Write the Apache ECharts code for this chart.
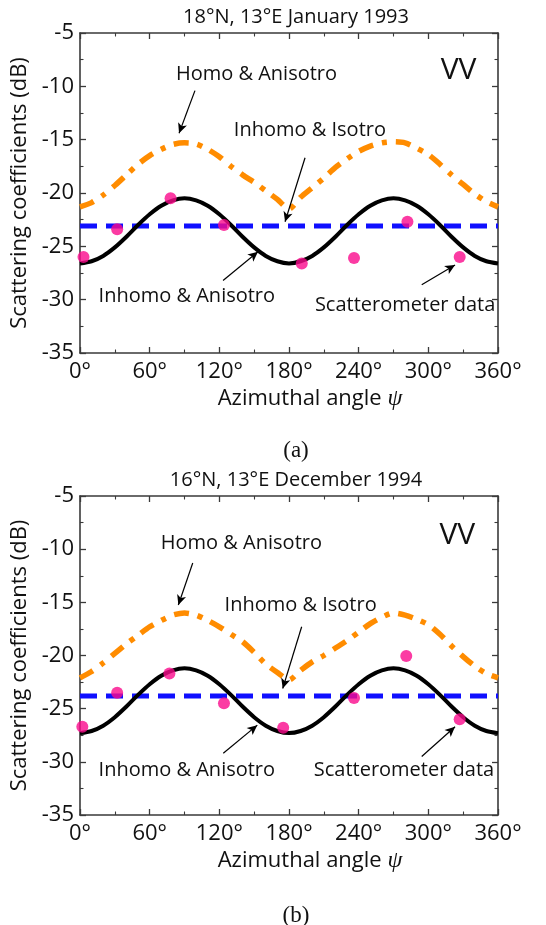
<!DOCTYPE html>
<html><head><meta charset="utf-8">
<script src="https://cdn.jsdelivr.net/npm/echarts@6/dist/echarts.min.js"></script>
<style>html,body{margin:0;padding:0;background:#fff}#c{width:546px;height:925px}</style>
</head><body><div id="c"></div>
<script>
// ---- data ----
const angles = [0,10,20,30,40,50,60,70,80,90,100,110,120,130,140,150,160,170,180,190,200,210,220,230,240,250,260,270,280,290,300,310,320,330,340,350,360];
const xTicks = [0,60,120,180,240,300,360];
const yTicks = [-35,-30,-25,-20,-15,-10,-5];

const titleA = '18°N, 13°E January 1993';
const titleB = '16°N, 13°E December 1994';

const blackA = [-26.6,-26.4,-25.9,-25.1,-24.1,-23.0,-22.0,-21.2,-20.7,-20.5,-20.7,-21.2,-22.0,-23.0,-24.1,-25.1,-25.9,-26.4,-26.6,-26.4,-25.9,-25.1,-24.1,-23.0,-22.0,-21.2,-20.7,-20.5,-20.7,-21.2,-22.0,-23.0,-24.1,-25.1,-25.9,-26.4,-26.6];
const orangeA = [-21.3,-20.9,-20.2,-19.3,-18.3,-17.3,-16.5,-15.9,-15.45,-15.3,-15.4,-15.9,-16.6,-17.5,-18.3,-19.0,-19.8,-20.6,-21.5,-20.4,-19.5,-18.6,-17.6,-16.8,-16.1,-15.6,-15.3,-15.2,-15.3,-15.8,-16.4,-17.3,-18.3,-19.2,-20.1,-20.8,-21.3];
const blueA = -23.1;
const scatAngA = [3,32,78,124,191,236,282,327];
const scatValA = [-26.0,-23.4,-20.5,-23.0,-26.6,-26.1,-22.7,-26.0];

const blackB = [-27.3,-27.1,-26.6,-25.8,-24.8,-23.7,-22.7,-21.9,-21.4,-21.2,-21.4,-21.9,-22.7,-23.7,-24.8,-25.8,-26.6,-27.1,-27.3,-27.1,-26.6,-25.8,-24.8,-23.7,-22.7,-21.9,-21.4,-21.2,-21.4,-21.9,-22.7,-23.7,-24.8,-25.8,-26.6,-27.1,-27.3];
const orangeB = [-22.1,-21.5,-20.7,-19.8,-18.9,-18.1,-17.3,-16.7,-16.2,-16.0,-16.2,-16.7,-17.3,-18.0,-18.7,-19.7,-20.8,-21.6,-22.3,-21.4,-20.6,-20.0,-19.3,-18.6,-17.8,-17.0,-16.4,-16.0,-16.2,-16.6,-17.1,-18.0,-19.1,-20.1,-21.0,-21.7,-22.1];
const blueB = -23.8;
const scatAngB = [2,32,77,124,175,236,281,327];
const scatValB = [-26.7,-23.5,-21.7,-24.5,-26.8,-24.0,-20.05,-26.0];

// annotation texts and their anchor points (data coordinates)
const notesA = [
  {text:'Homo & Anisotro', at:[152,-8.9], from:[99,-10.4], to:[85.3,-14.4]},
  {text:'Inhomo & Isotro', at:[198,-14.1], from:[193.8,-16.7], to:[176.6,-22.7]},
  {text:'Inhomo & Anisotro', at:[92,-29.7], from:[123.2,-28.2], to:[153.3,-25.5]},
  {text:'Scatterometer data', at:[280,-30.5], from:[294.3,-28.6], to:[323,-26.75]}
];
const notesB = [
  {text:'Homo & Anisotro', at:[139,-9.45], from:[97.1,-11.3], to:[84.7,-15.25]},
  {text:'Inhomo & Isotro', at:[190,-15.25], from:[190.9,-17.3], to:[174.6,-23.1]},
  {text:'Inhomo & Anisotro', at:[92,-30.8], from:[123.4,-29.2], to:[152.7,-26.55]},
  {text:'Scatterometer data', at:[279,-30.8], from:[294.3,-29.5], to:[323,-26.7]}
];
const vvPos = [[326,-8.5],[325,-8.7]];

// ---- chart ----
const FONT = 'Open Sans';
const AX = '#3a3a3a';
const grids = [
  {left:80, top:33, width:418, height:320},
  {left:80, top:496, width:418, height:319}
];
const xAxes = [], yAxes = [];
grids.forEach((g, gi) => {
  const tickCommon = {show:true, inside:true, length:6, lineStyle:{color:AX, width:1.3}};
  const minorCommon = {show:true, splitNumber:2, length:3.5, lineStyle:{color:AX, width:1.1}};
  xAxes.push({
    type:'value', gridIndex:gi, min:0, max:360, interval:60, position:'bottom',
    axisLine:{show:true, onZero:false, lineStyle:{color:AX, width:1.6}},
    axisTick:tickCommon, minorTick:minorCommon, splitLine:{show:false},
    axisLabel:{fontFamily:FONT, fontSize:22, color:'#111', margin:8, formatter:v => v + '°'},
    name:'{a|Azimuthal angle }{p|ψ}', nameLocation:'middle', nameGap:34,
    nameTextStyle:{padding:[0,0,0,42], rich:{
      a:{fontFamily:FONT, fontSize:22, color:'#111'},
      p:{fontFamily:'Liberation Serif', fontStyle:'italic', fontSize:24, color:'#111'}}}
  });
  xAxes.push({
    type:'value', gridIndex:gi, min:0, max:360, interval:60, position:'top',
    axisLine:{show:true, onZero:false, lineStyle:{color:AX, width:1.6}},
    axisTick:tickCommon, minorTick:minorCommon, splitLine:{show:false}, axisLabel:{show:false}
  });
  yAxes.push({
    type:'value', gridIndex:gi, min:-35, max:-5, interval:5, position:'left',
    axisLine:{show:true, onZero:false, lineStyle:{color:AX, width:1.6}},
    axisTick:tickCommon, minorTick:minorCommon, splitLine:{show:false},
    axisLabel:{fontFamily:FONT, fontSize:22, color:'#111', margin:6},
    name:'Scattering coefficients (dB)', nameLocation:'middle', nameGap:45,
    nameTextStyle:{fontFamily:FONT, fontSize:22, color:'#111'}
  });
  yAxes.push({
    type:'value', gridIndex:gi, min:-35, max:-5, interval:5, position:'right',
    axisLine:{show:true, onZero:false, lineStyle:{color:AX, width:1.6}},
    axisTick:tickCommon, minorTick:minorCommon, splitLine:{show:false}, axisLabel:{show:false}
  });
});

function panelSeries(gi, black, orange, blue, sAng, sVal, notes, vv) {
  const xi = gi*2, yi = gi*2;
  return [
    {type:'line', xAxisIndex:xi, yAxisIndex:yi, data:angles.map((a,i)=>[a, orange[i]]), smooth:0.25,
     showSymbol:false, lineStyle:{color:'#ff8c00', width:5.5, type:[15,9,5,9]}, z:3},
    {type:'line', xAxisIndex:xi, yAxisIndex:yi, data:[[0,blue],[360,blue]],
     showSymbol:false, lineStyle:{color:'#0f0fff', width:5, type:[17,9]}, z:3},
    {type:'line', xAxisIndex:xi, yAxisIndex:yi, data:angles.map((a,i)=>[a, black[i]]), smooth:0.3,
     showSymbol:false, lineStyle:{color:'#000', width:4}, z:4},
    {type:'scatter', xAxisIndex:xi, yAxisIndex:yi, data:sAng.map((a,i)=>[a, sVal[i]]),
     symbolSize:12, itemStyle:{color:'#fa0a8c'}, z:5, clip:true},
    {type:'scatter', xAxisIndex:xi, yAxisIndex:yi, data:[], silent:true, z:6,
     markPoint:{symbol:'circle', symbolSize:0, silent:true,
       data: notes.map(n => ({coord:n.at, value:n.text,
         label:{show:true, formatter:n.text, fontFamily:FONT, fontSize:20, color:'#111', position:'inside'}}))
         .concat([{coord:vv, label:{show:true, formatter:'VV', fontFamily:FONT, fontSize:30, color:'#111', position:'inside'}}])},
     markLine:{silent:true, symbol:['none','arrow'], symbolSize:[7,10], animation:false,
       lineStyle:{color:'#000', width:1.2, type:'solid'}, label:{show:false},
       data: notes.map(n => [{coord:n.from}, {coord:n.to}])}
    }
  ];
}

const chart = echarts.init(document.getElementById('c'), null, {renderer:'canvas'});
chart.setOption({
  animation:false,
  title:[
    {text:titleA, left:291, top:2, textAlign:'center', textStyle:{fontFamily:FONT, fontSize:20, fontWeight:'normal', color:'#111'}},
    {text:titleB, left:291, top:465, textAlign:'center', textStyle:{fontFamily:FONT, fontSize:20, fontWeight:'normal', color:'#111'}},
    {text:'(a)', left:291, top:434, textAlign:'center', textStyle:{fontFamily:'Liberation Serif', fontSize:23, fontWeight:'normal', color:'#111'}},
    {text:'(b)', left:291, top:899, textAlign:'center', textStyle:{fontFamily:'Liberation Serif', fontSize:23, fontWeight:'normal', color:'#111'}}
  ],
  grid:grids,
  xAxis:xAxes,
  yAxis:yAxes,
  series:[].concat(
    panelSeries(0, blackA, orangeA, blueA, scatAngA, scatValA, notesA, vvPos[0]),
    panelSeries(1, blackB, orangeB, blueB, scatAngB, scatValB, notesB, vvPos[1])
  )
});
</script></body></html>
